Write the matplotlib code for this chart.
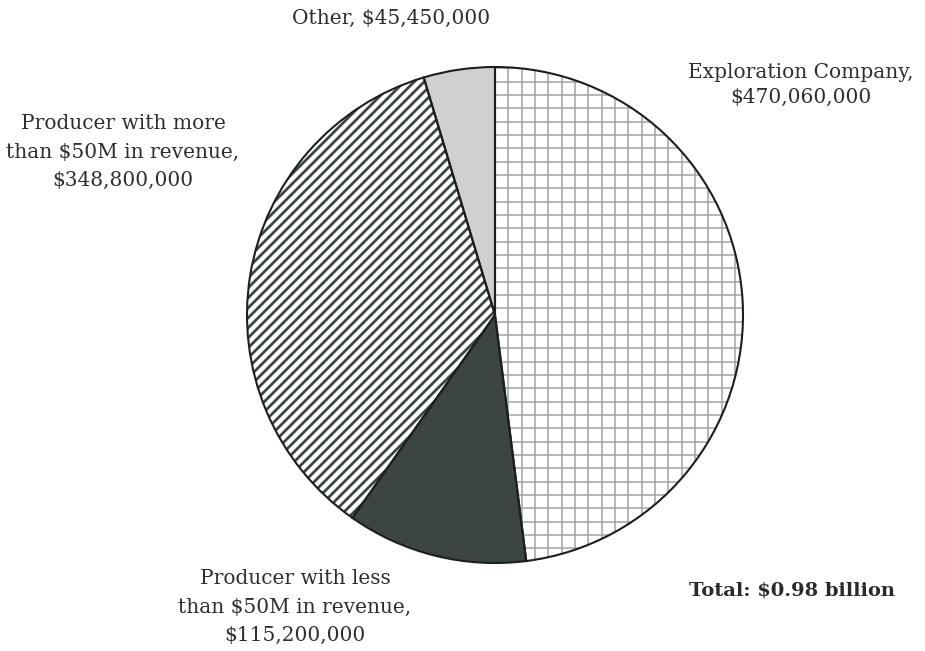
import matplotlib.pyplot as plt
import numpy as np
from matplotlib.collections import LineCollection

plt.rcParams['font.family'] = ['DejaVu Serif']

# funding by company type, in dollars
categories = ['Exploration Company', 'Producer with less\nthan $50M in revenue',
              'Producer with more\nthan $50M in revenue', 'Other']
values = [470060000, 115200000, 348800000, 45450000]
face_colors = ['white', '#3c4543', 'white', '#d0d0d0']

W, H = 925, 651
fig = plt.figure(figsize=(W / 100, H / 100), dpi=100)
ax = fig.add_axes([0, 0, 1, 1])

cx, cy, r = 495, H - 315, 248

# filled wedges first, outlines drawn again on top of the hatching
wedges, _ = ax.pie(values, startangle=90, counterclock=False, center=(cx, cy),
                   radius=r, colors=face_colors, frame=True,
                   wedgeprops=dict(linewidth=0))

# grid pattern for the exploration slice
step = 13.33
segs = []
for k in range(-20, 21):
    xx = cx + k * step
    segs.append([(xx, cy - r - 5), (xx, cy + r + 5)])
y0 = H - 81.7
for k in range(-40, 40):
    yy = y0 + k * step
    segs.append([(cx - r - 5, yy), (cx + r + 5, yy)])
grid = LineCollection(segs, colors='#a3a3a3', linewidths=1.1, zorder=2)
ax.add_collection(grid)
grid.set_clip_path(wedges[0])

# diagonal stripes for the larger producers
dstep = 10.0
segs = []
for c in np.arange(-2 * r, 2 * r, dstep):
    segs.append([(cx - r - 10, cy - r - 10 + c), (cx + r + 10, cy + r + 10 + c)])
stripes = LineCollection(segs, colors='#3c4543', linewidths=2.0, zorder=2)
ax.add_collection(stripes)
stripes.set_clip_path(wedges[2])

ax.pie(values, startangle=90, counterclock=False, center=(cx, cy), radius=r,
       colors=['none'] * 4, frame=True,
       wedgeprops=dict(edgecolor='#1e1e1e', linewidth=1.5, zorder=3))

fs = 14.5
txt = dict(ha='center', va='center', fontsize=fs, color='#2e2e2e')
ax.text(391, H - 18, f'Other, ${values[3]:,}', **txt)
ax.text(801, H - 85, f'{categories[0]},\n${values[0]:,}', linespacing=1.35, **txt)
ax.text(123, H - 152, f'{categories[2]},\n${values[2]:,}', linespacing=1.65, **txt)
ax.text(295, H - 607, f'{categories[1]},\n${values[1]:,}', linespacing=1.6, **txt)
ax.text(792, H - 590, f'Total: ${sum(values) / 1e9:.2f} billion',
        ha='center', va='center', fontsize=fs - 0.5, fontweight='bold', color='#2a2a2a')

ax.set_xlim(0, W)
ax.set_ylim(0, H)
ax.set_aspect('auto')
ax.axis('off')

fig.savefig('out.png', dpi=100)
